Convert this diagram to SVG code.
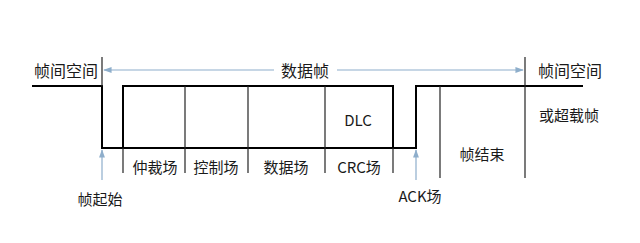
<svg xmlns="http://www.w3.org/2000/svg" width="640" height="243" viewBox="0 0 640 243">
<defs>
<style>
.t{font-family:"Noto Sans CJK SC","Noto Sans",sans-serif;font-size:15px;fill:#1a1a1a;text-anchor:middle;dominant-baseline:central}
.big{font-size:16px}
.sig{fill:none;stroke:#000;stroke-width:2}
.sep{stroke:#222;stroke-width:1.2;fill:none}
.arr{stroke:#8eaecb;stroke-width:1.2;fill:none}
</style>
<marker id="ah" viewBox="0 0 10 10" refX="9" refY="5" markerWidth="7" markerHeight="7" orient="auto-start-reverse">
<path d="M0,1.5 L10,5 L0,8.5 z" fill="#8eaecb"/>
</marker>
</defs>
<rect width="640" height="243" fill="#fff"/>
<g id="connectors">
<line class="arr" x1="104" y1="70" x2="274" y2="70" marker-start="url(#ah)"/>
<line class="arr" x1="337" y1="70" x2="523" y2="70" marker-end="url(#ah)"/>
<line class="arr" x1="102" y1="180" x2="102" y2="150" marker-end="url(#ah)"/>
<line class="arr" x1="416" y1="180" x2="416" y2="150" marker-end="url(#ah)"/>
</g>
<g id="signal">
<path class="sig" d="M32,86 H102 V148 H123 M123,148 H416 V86 H583"/>
<path class="sig" d="M123,148 V86 H393 V148"/>
<line class="sep" x1="102" y1="57" x2="102" y2="86"/>
<line class="sep" x1="525" y1="57" x2="525" y2="178"/>
<line class="sep" x1="440" y1="86" x2="440" y2="178"/>
<line class="sep" x1="123" y1="148" x2="123" y2="173"/>
<line class="sep" x1="185" y1="86" x2="185" y2="173"/>
<line class="sep" x1="248" y1="86" x2="248" y2="173"/>
<line class="sep" x1="325" y1="86" x2="325" y2="173"/>
<line class="sep" x1="393" y1="148" x2="393" y2="173"/>
</g>
<g id="labels">
<text class="t big" x="66" y="70">帧间空间</text>
<text class="t big" x="305" y="70">数据帧</text>
<text class="t big" x="570" y="70">帧间空间</text>
<text class="t" x="569" y="114">或超载帧</text>
<text class="t" x="358" y="119">DLC</text>
<text class="t" x="482" y="153">帧结束</text>
<text class="t" x="155" y="166">仲裁场</text>
<text class="t" x="216" y="166">控制场</text>
<text class="t" x="286" y="166">数据场</text>
<text class="t" x="359" y="166">CRC场</text>
<text class="t" x="100" y="198">帧起始</text>
<text class="t" x="420" y="195">ACK场</text>
</g>
</svg>
